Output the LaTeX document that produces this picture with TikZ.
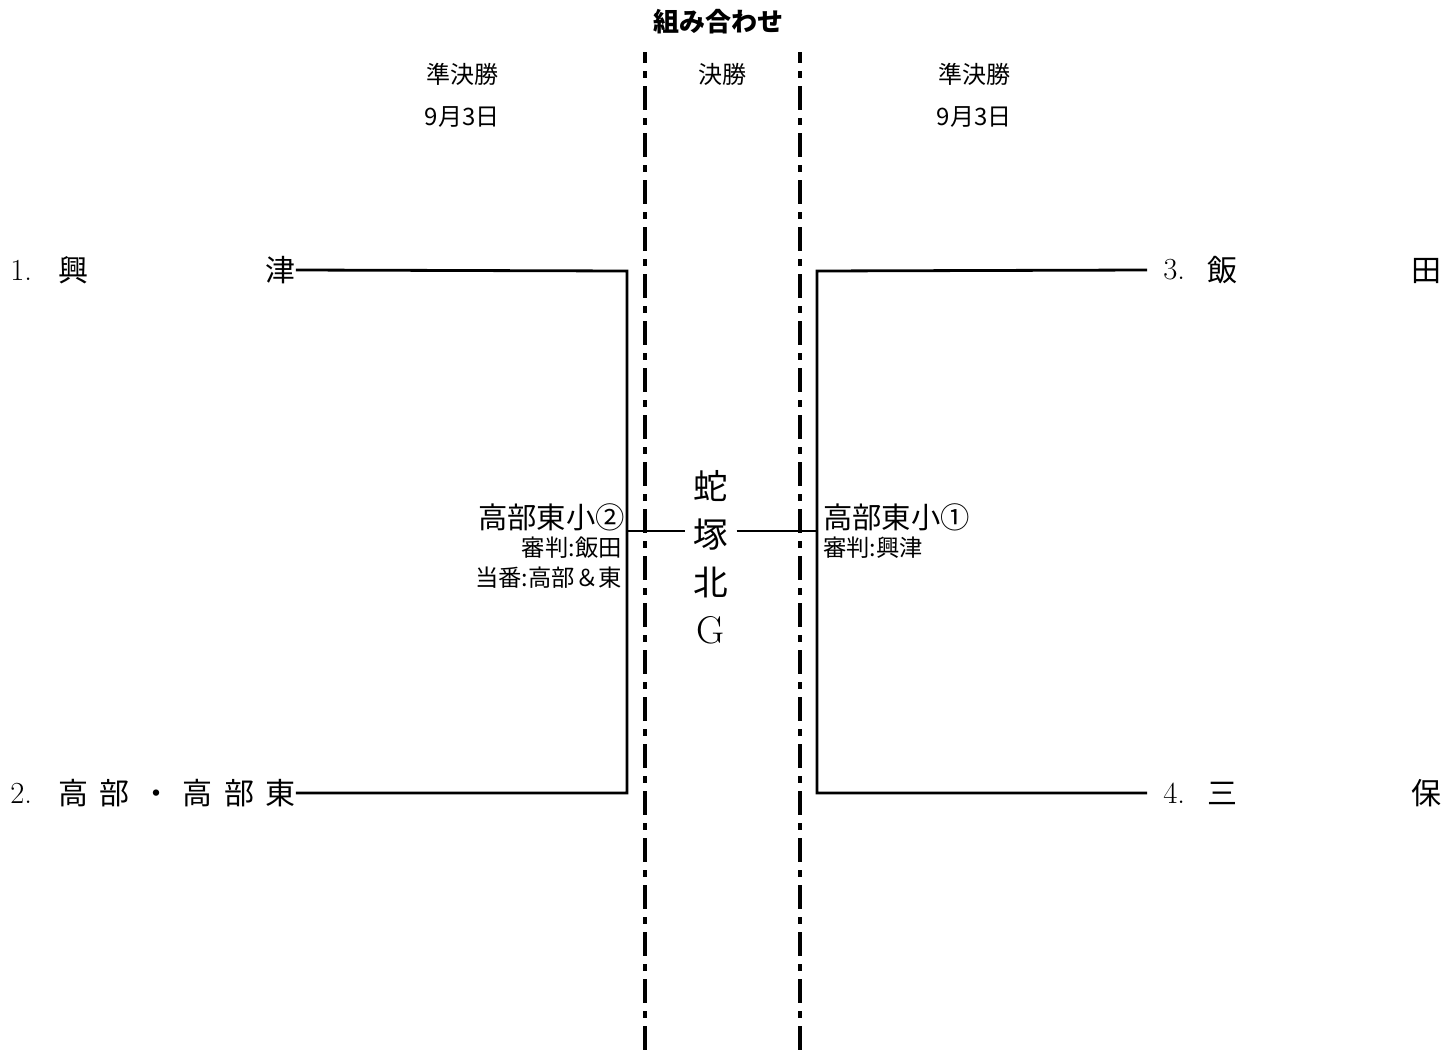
\documentclass[tikz,border=0pt]{standalone}
\usepackage{fontspec}
\newfontfamily\cjk{Noto Sans CJK JP}
\usepackage{tikz}
\usetikzlibrary{calc}
\tikzset{
  bracket/.style={line width=2.1pt},
  divider/.style={line width=2.3pt, dash pattern=on 18pt off 6pt on 5.25pt off 6pt, dash phase=9.75pt},
  team/.style={inner sep=0pt, font=\cjk\fontsize{22.5}{27}\selectfont},
  seed/.style={inner sep=0pt, font=\fontsize{23}{27}\selectfont},
  head/.style={inner sep=0pt, font=\cjk\fontsize{18}{22}\selectfont},
  winner/.style={inner sep=0pt, font=\cjk\fontsize{22}{26}\selectfont},
  duty/.style={inner sep=0pt, font=\cjk\fontsize{17.5}{20}\selectfont},
  venue/.style={inner xsep=6pt, inner ysep=0pt, align=center, font=\cjk\fontsize{26}{36}\selectfont}
}

\begin{document}
\begin{tikzpicture}[x=0.75pt, y=-0.75pt]
  \useasboundingbox (0,0) rectangle (1456,1053);
  % headings
  \node[head, font=\cjk\bfseries\fontsize{19.5}{22}\selectfont] (title) at (718,22) {組み合わせ};
  \node[head] (semiL) at (462,74) {準決勝};
  \node[head] (dateL) at (462,117) {9月3日};
  \node[head] (final) at (722,74) {決勝};
  \node[head] (semiR) at (974,74) {準決勝};
  \node[head] (dateR) at (974,117) {9月3日};

  % round dividers
  \coordinate (P1) at (645,52);
  \coordinate (P2) at (645,1053);
  \coordinate (Q1) at (800,52);
  \coordinate (Q2) at (800,1053);
  \draw[divider] (P1) -- (P2);
  \draw[divider] (Q1) -- (Q2);

  % left half
  \node[seed, anchor=west] (n1) at (10,270) {1.};
  \node[team, anchor=west] (t1) at (58,270) {\makebox[178pt]{興\hfill 津}};
  \node[seed, anchor=west] (n2) at (10,793) {2.};
  \node[team, anchor=west] (t2) at (58,793) {\makebox[178pt]{高\hfill 部\hfill ・\hfill 高\hfill 部\hfill 東}};
  \coordinate (A) at (627,271);
  \coordinate (B) at (627,793);
  \coordinate (M) at (627,531);
  \draw[bracket] (t1.east) -- (A) -- (B) -- (t2.east);

  % right half
  \node[seed, anchor=west] (n3) at (1163,270) {3.};
  \node[team, anchor=west] (t3) at (1207,270) {\makebox[176pt]{飯\hfill 田}};
  \node[seed, anchor=west] (n4) at (1163,793) {4.};
  \node[team, anchor=west] (t4) at (1207,793) {\makebox[176pt]{三\hfill 保}};
  \coordinate (C) at (817,271);
  \coordinate (D) at (817,793);
  \coordinate (N) at (817,531);
  \draw[bracket] ([xshift=-12pt]n3.west) -- (C) -- (D) -- ([xshift=-12pt]n4.west);

  % final
  \node[venue] (fin) at (711,557) {蛇\\塚\\北\\{\rmfamily\fontsize{29}{36}\selectfont G}};
  \draw[bracket] (M) -- (M -| fin.west);
  \draw[bracket] (fin.east |- N) -- (N);

  % semi-final results
  \node[winner, anchor=base east] (w1) at (625,528) {高部東小②};
  \node[duty, anchor=base east] (r1) at (622,556) {審判:飯田};
  \node[duty, anchor=base east] (s1) at (622,586) {当番:高部＆東};
  \node[winner, anchor=base west] (w2) at (823,528) {高部東小①};
  \node[duty, anchor=base west] (r2) at (823,556) {審判:興津};
\end{tikzpicture}
\end{document}
